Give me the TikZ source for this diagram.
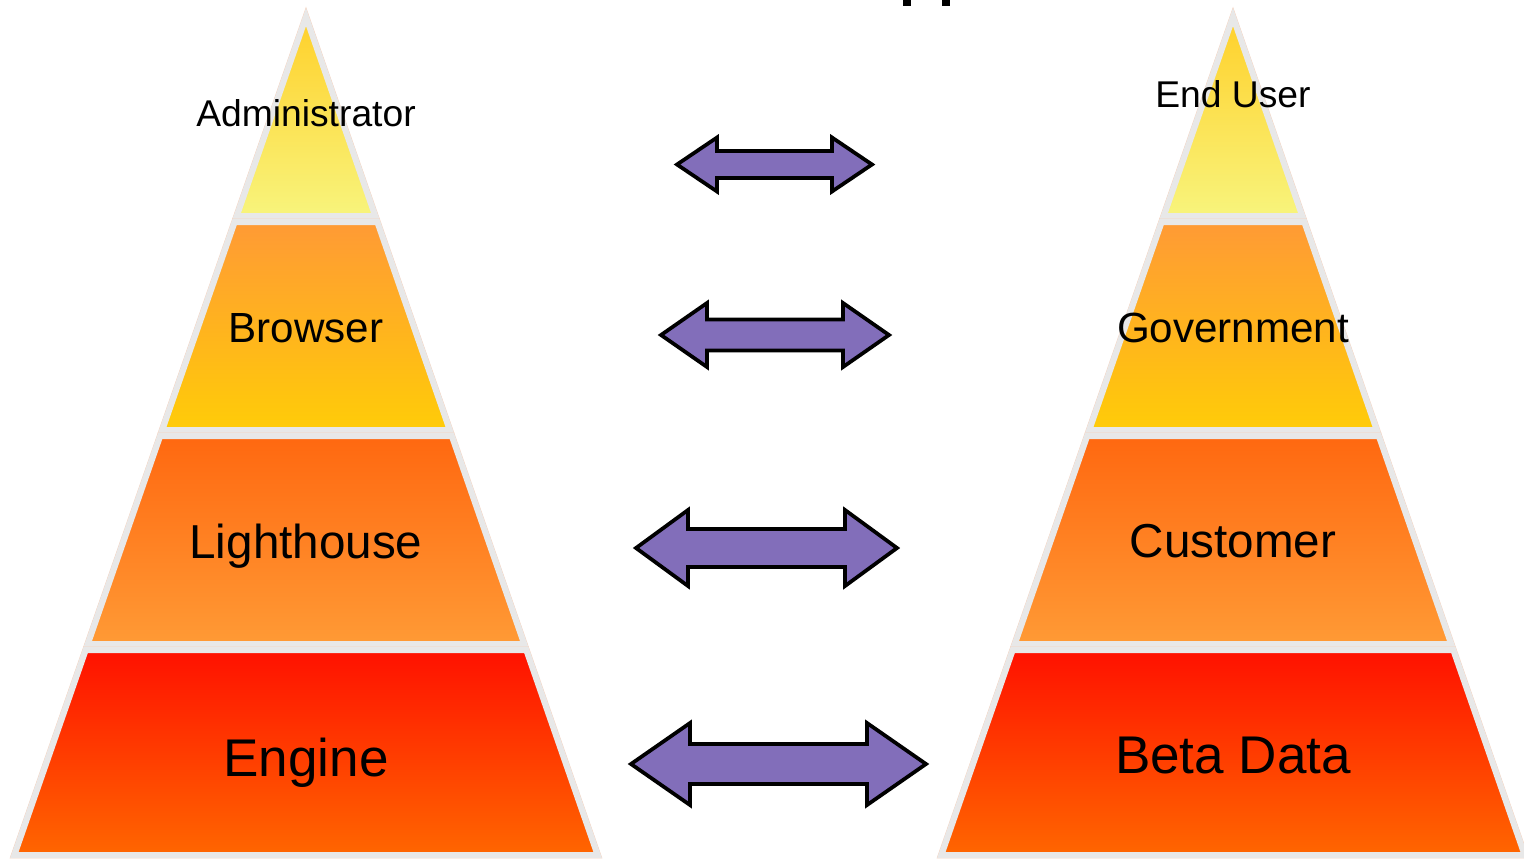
\documentclass[tikz,border=0pt]{standalone}
\usepackage{fontspec}
\setmainfont{Liberation Sans}
\definecolor{layergrey}{HTML}{E8E8E8}
\definecolor{layeredge}{HTML}{F5D2BE}
\definecolor{arrowpurple}{HTML}{826EBA}
\definecolor{yellowtop}{HTML}{FFD02A}
\definecolor{yellowbot}{HTML}{F8F47C}
\definecolor{amberbot}{HTML}{FFCC08}
\definecolor{orangemid}{HTML}{FF9A35}
\definecolor{orangetop}{HTML}{FF6810}
\definecolor{redtop}{HTML}{FF1100}
\definecolor{redbot}{HTML}{FF6600}
\begin{document}
\begin{tikzpicture}
[x=0.02cm,y=-0.02cm,
  layerdecorate/.style={draw=layergrey,line width=0.12cm,line join=miter,
    preaction={draw=layeredge,line width=0.135cm}},%
  arrowdecorate/.style={fill=arrowpurple,draw=black,line width=0.075cm,line join=miter},%
  labeldecorate/.style={anchor=base,inner sep=0pt,font=\fontsize{#1}{#1}\selectfont}]
\useasboundingbox (0,0) rectangle (1524,859);
%% pyramids, layer by layer
\foreach \cx in {306,1233} {
  \path[layerdecorate,top color=yellowtop,bottom color=yellowbot]
    (\cx,17) -- ({\cx+0.348*199},216) -- ({\cx-0.348*199},216) -- cycle;
  \foreach \ya/\yb/\ctop/\cbot in {222/430/orangemid/amberbot,
    436/644/orangetop/orangemid, 650/855/redtop/redbot} {
    \path[layerdecorate,top color=\ctop,bottom color=\cbot]
      ({\cx-0.348*(\ya-17)},\ya) -- ({\cx+0.348*(\ya-17)},\ya)
      -- ({\cx+0.348*(\yb-17)},\yb) -- ({\cx-0.348*(\yb-17)},\yb) -- cycle;
  }
}
%% layer labels
\foreach \nodename/\x/\y/\size/\caption in {adm/306/126/21.2pt/Administrator,
  brw/306/342/24pt/Browser, lgt/306/558/27.1pt/Lighthouse,
  eng/306/776/30.2pt/Engine, usr/1233/107/21.2pt/End User,
  gov/1233/342/24pt/Government, cst/1233/557/27.1pt/Customer,
  bet/1233/773/30.2pt/Beta Data} {
  \node (\nodename) at (\x,\y) [labeldecorate=\size] {\caption};
}
%% double arrows between the pyramids
\foreach \cy/\xl/\xr/\hl/\hh/\sh in {164.5/677/872/40/27/13.5,
  335/661/889/46/32/15.5, 548/636/897/52/38/19, 764/631/926/59/41/20} {
  \path[arrowdecorate] (\xl,\cy) -- (\xl+\hl,\cy-\hh) -- (\xl+\hl,\cy-\sh)
    -- (\xr-\hl,\cy-\sh) -- (\xr-\hl,\cy-\hh) -- (\xr,\cy)
    -- (\xr-\hl,\cy+\hh) -- (\xr-\hl,\cy+\sh) -- (\xl+\hl,\cy+\sh)
    -- (\xl+\hl,\cy+\hh) -- cycle;
}
%% cut-off title marks at the top edge
\fill (903,0) rectangle (911,6);
\fill (942,0) rectangle (950,6);
\end{tikzpicture}
\end{document}
